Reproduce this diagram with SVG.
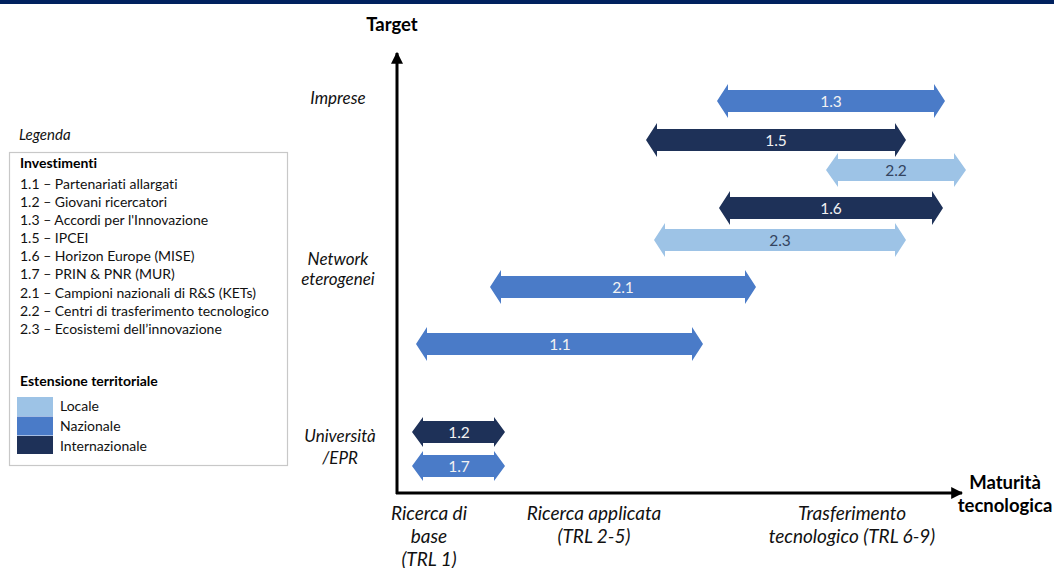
<svg xmlns="http://www.w3.org/2000/svg" width="1054" height="568" viewBox="0 0 1054 568">
<style>
text{font-family:Lato,"Open Sans","Liberation Sans",sans-serif;font-variant-ligatures:none;}
.ax{font-size:18.5px;font-weight:bold;fill:#000;text-anchor:middle;}
.it{font-size:17px;font-style:italic;fill:#111;text-anchor:middle;}
.ib{font-size:19px;font-style:italic;fill:#111;text-anchor:middle;}
.lg{font-size:14px;fill:#111;}
.lb{font-size:14px;font-weight:bold;fill:#000;}
.al{font-size:15.5px;text-anchor:middle;}
.w{fill:#f2f2f2;}
.d{fill:#34445f;}
.L{fill:#9dc3e6;}
.N{fill:#4a7bc8;}
.I{fill:#1e3158;}
</style>
<defs>
<marker id="ah" viewBox="0 0 10 10" refX="9" refY="5" markerWidth="4" markerHeight="4" orient="auto" markerUnits="strokeWidth">
<path d="M0,0 L10,5 L0,10 z" fill="#000"/>
</marker>
</defs>
<rect x="0" y="0" width="1054" height="4" fill="#00215e"/>
<g id="axes">
<line x1="397" y1="494" x2="397" y2="53" stroke="#000" stroke-width="3" marker-end="url(#ah)"/>
<line x1="396" y1="493" x2="962" y2="493" stroke="#000" stroke-width="3" marker-end="url(#ah)"/>
</g>
<g id="axis-labels">
<text class="ax" x="392" y="31">Target</text>
<text class="ax" x="1005" y="489">Maturità</text>
<text class="ax" x="1005" y="512">tecnologica</text>
<text class="it" x="338" y="104">Imprese</text>
<text class="it" x="338" y="265">Network</text>
<text class="it" x="338" y="285">eterogenei</text>
<text class="it" x="340" y="442">Università</text>
<text class="it" x="340" y="464">/EPR</text>
<text class="ib" x="429" y="520">Ricerca di</text>
<text class="ib" x="429" y="543">base</text>
<text class="ib" x="429" y="566">(TRL 1)</text>
<text class="ib" x="594" y="520">Ricerca applicata</text>
<text class="ib" x="594" y="543">(TRL 2-5)</text>
<text class="ib" x="852" y="520">Trasferimento</text>
<text class="ib" x="852" y="543">tecnologico (TRL 6-9)</text>
</g>
<g id="arrow-1.3"><polygon class="N" points="717,101 728,84 728,90 934,90 934,84 945,101 934,118 934,112 728,112 728,118"/><text class="al w" x="831" y="107">1.3</text></g>
<g id="arrow-1.5"><polygon class="I" points="646,140 657,123 657,129 895,129 895,123 906,140 895,157 895,151 657,151 657,157"/><text class="al w" x="776" y="146">1.5</text></g>
<g id="arrow-2.2"><polygon class="L" points="826,170 838,153 838,159 954,159 954,153 966,170 954,187 954,181 838,181 838,187"/><text class="al d" x="896" y="176">2.2</text></g>
<g id="arrow-1.6"><polygon class="I" points="719,208 730,191 730,197 932,197 932,191 943,208 932,225 932,219 730,219 730,225"/><text class="al w" x="831" y="214">1.6</text></g>
<g id="arrow-2.3"><polygon class="L" points="654,240 665,223 665,229 895,229 895,223 906,240 895,257 895,251 665,251 665,257"/><text class="al d" x="780" y="246">2.3</text></g>
<g id="arrow-2.1"><polygon class="N" points="490,287 501,270 501,276 745,276 745,270 756,287 745,304 745,298 501,298 501,304"/><text class="al w" x="623" y="293">2.1</text></g>
<g id="arrow-1.1"><polygon class="N" points="416,344 427,327 427,333 692,333 692,327 703,344 692,361 692,355 427,355 427,361"/><text class="al w" x="560" y="350">1.1</text></g>
<g id="arrow-1.2"><polygon class="I" points="412,432 423,417 423,421 494,421 494,417 505,432 494,447 494,443 423,443 423,447"/><text class="al w" x="459" y="438">1.2</text></g>
<g id="arrow-1.7"><polygon class="N" points="412,466 423,451 423,455 494,455 494,451 505,466 494,481 494,477 423,477 423,481"/><text class="al w" x="459" y="472">1.7</text></g>
<g id="legend">
<text x="19" y="140" style="font-size:15px;font-style:italic;fill:#111">Legenda</text>
<rect x="9.5" y="152.5" width="278" height="313" fill="#fff" stroke="#c8c8c8" stroke-width="1.2"/>
<text class="lb" x="20" y="168">Investimenti</text>
<text class="lg" x="20" y="189">1.1 – Partenariati allargati</text>
<text class="lg" x="20" y="207">1.2 – Giovani ricercatori</text>
<text class="lg" x="20" y="225">1.3 – Accordi per l'Innovazione</text>
<text class="lg" x="20" y="243">1.5 – IPCEI</text>
<text class="lg" x="20" y="261">1.6 – Horizon Europe (MISE)</text>
<text class="lg" x="20" y="279">1.7 – PRIN &amp; PNR (MUR)</text>
<text class="lg" x="20" y="298">2.1 – Campioni nazionali di R&amp;S (KETs)</text>
<text class="lg" x="20" y="316">2.2 – Centri di trasferimento tecnologico</text>
<text class="lg" x="20" y="334">2.3 – Ecosistemi dell’innovazione</text>
<text class="lb" x="20" y="386">Estensione territoriale</text>
<rect class="L" x="17" y="397" width="36" height="19"/>
<rect class="N" x="17" y="416.5" width="36" height="19"/>
<rect class="I" x="17" y="436" width="36" height="18"/>
<text class="lg" x="60" y="411">Locale</text>
<text class="lg" x="60" y="431">Nazionale</text>
<text class="lg" x="60" y="451">Internazionale</text>
</g>
</svg>
